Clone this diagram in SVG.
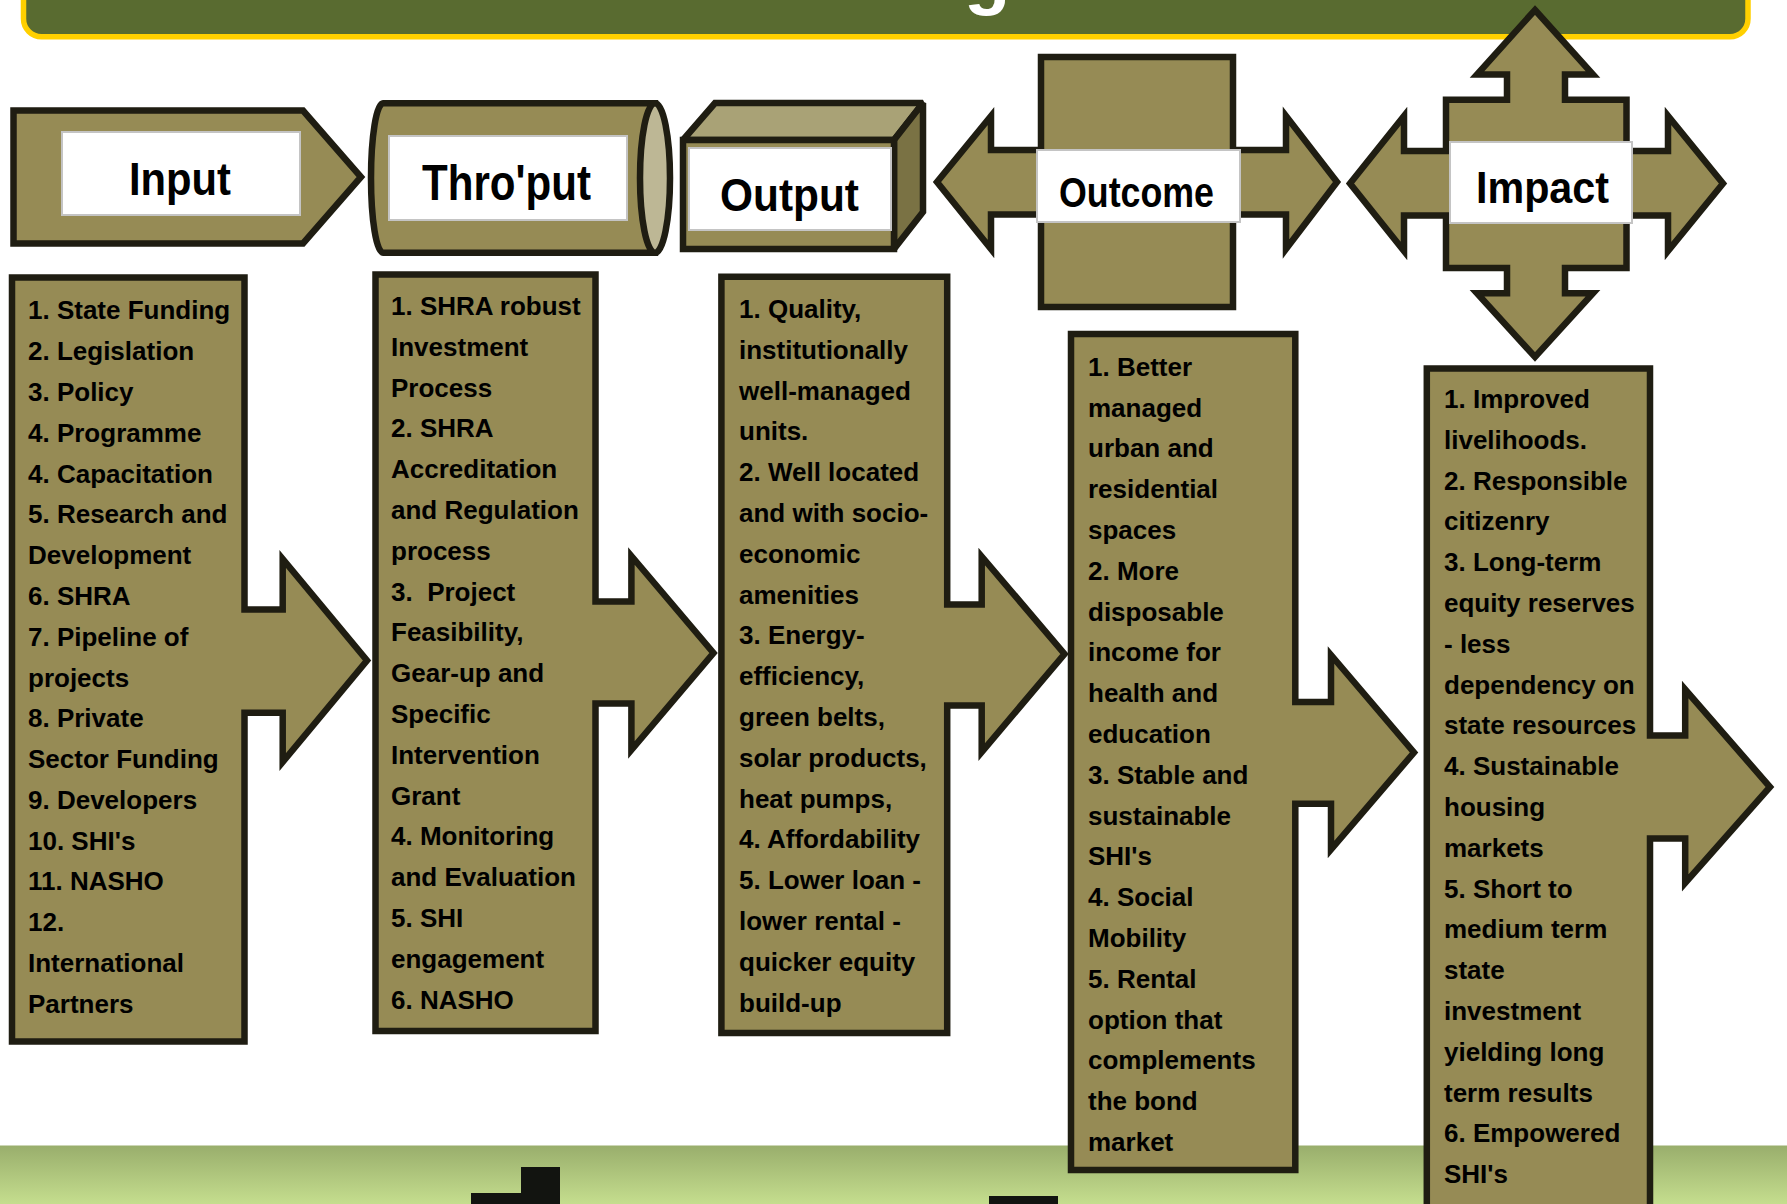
<svg xmlns="http://www.w3.org/2000/svg" width="1787" height="1204" viewBox="0 0 1787 1204">
  <defs>
    <linearGradient id="band" x1="0" y1="0" x2="0" y2="1">
      <stop offset="0" stop-color="#99ae6c"/>
      <stop offset="1" stop-color="#c6df8f"/>
    </linearGradient>
    <style>
      .olive { fill:#968b55; stroke:#1f1d12; stroke-width:6.5; stroke-linejoin:miter; stroke-miterlimit:10; }
      .face { stroke:#1f1d12; stroke-width:6.5; stroke-linejoin:miter; stroke-miterlimit:1.5; }
      .lbl { fill:#ffffff; stroke:#c4c4c4; stroke-width:2; }
      .hdr { font-family:"Liberation Sans", Arial, sans-serif; font-weight:bold; fill:#000; text-anchor:middle; }
      .body { font-family:"Liberation Sans", Arial, sans-serif; font-weight:bold; font-size:26px; fill:#000; white-space:pre; }
    </style>
  </defs>
  <rect x="0" y="0" width="1787" height="1204" fill="#ffffff"/>

  <!-- title bar (cut off at top) -->
  <g id="title-bar">
    <rect x="23.5" y="-40" width="1724.5" height="76.8" rx="18" ry="18" fill="#596b30" stroke="#ffd000" stroke-width="5.5"/>
    <text x="964" y="0" font-family="Liberation Sans, Arial, sans-serif" font-weight="bold" font-size="76" fill="#ffffff">g</text>
  </g>

  <!-- bottom band -->
  <g id="bottom-band">
    <rect x="0" y="1145.5" width="1787" height="60" fill="url(#band)"/>
    <path d="M471,1193 H521 V1167 H560 V1204 H471 Z" fill="#121410"/>
    <rect x="989" y="1196" width="69" height="8" fill="#121410"/>
  </g>

  <g id="connectors"></g>

  <!-- Input header -->
  <g id="input-header">
    <path class="olive" d="M13.5,110.5 H303 L361,177 L303,243.5 H13.5 Z"/>
    <rect class="lbl" x="62" y="132" width="238" height="83"/>
    <text class="hdr" x="180" y="195" font-size="46" textLength="102" lengthAdjust="spacingAndGlyphs">Input</text>
  </g>

  <!-- Thro'put header (cylinder) -->
  <g id="throughput-header">
    <path class="olive" d="M383,103.3 H655 V252.7 H383 A12,74.7 0 0 1 383,103.3 Z"/>
    <ellipse cx="655" cy="178" rx="15" ry="74.7" fill="#bdb795" stroke="#1f1d12" stroke-width="6.5"/>
    <rect class="lbl" x="389" y="136" width="238" height="84"/>
    <text class="hdr" x="506.5" y="200" font-size="50" textLength="169" lengthAdjust="spacingAndGlyphs">Thro'put</text>
  </g>

  <!-- Output header (cube) -->
  <g id="output-header">
    <path class="face" d="M683,140 L715,103 H923 L894,140 Z" fill="#a9a276"/>
    <path class="face" d="M894,140 L923,103 V212 L894,249 Z" fill="#7a7244"/>
    <rect class="olive" x="683" y="140" width="211" height="109"/>
    <rect class="lbl" x="689" y="148" width="202" height="82"/>
    <text class="hdr" x="789.5" y="211" font-size="46" textLength="139" lengthAdjust="spacingAndGlyphs">Output</text>
  </g>

  <!-- Outcome header (cross with double arrow) -->
  <g id="outcome-header">
    <path class="olive" d="M1041,57 H1233 V150 H1286 V116 L1337,182 L1286,249 V214.5 H1233 V307 H1041 V214.5 H991 V249 L937,182 L991,116 V150 H1041 Z"/>
    <rect class="lbl" x="1037" y="150" width="203" height="72"/>
    <text class="hdr" x="1136.5" y="207" font-size="42" textLength="155" lengthAdjust="spacingAndGlyphs">Outcome</text>
  </g>

  <!-- Impact header (4-way arrow) -->
  <g id="impact-header">
    <path class="olive" d="M1535,10 L1593,74.5 H1565 V99.7 H1626.5 V151 H1668 V116 L1723,183.5 L1668,251 V215.5 H1626.5 V268 H1565 V293.3 H1593 L1535,357 L1477,293.3 H1507 V268 H1446 V215.5 H1404 V251 L1350,183.5 L1404,116 V151 H1446 V99.7 H1507 V74.5 H1477 Z"/>
    <rect class="lbl" x="1450" y="142" width="182" height="81"/>
    <text class="hdr" x="1542.5" y="203" font-size="45" textLength="133" lengthAdjust="spacingAndGlyphs">Impact</text>
  </g>

  <!-- Input body -->
  <g id="input-body">
    <path class="olive" d="M12,277.5 H244.5 V609.5 H282.7 V559 L367,660.5 L282.7,762 V712.7 H244.5 V1041.5 H12 Z"/>
    <text class="body">
      <tspan x="28" y="319.3">1. State Funding</tspan>
      <tspan x="28" dy="40.8">2. Legislation</tspan>
      <tspan x="28" dy="40.8">3. Policy</tspan>
      <tspan x="28" dy="40.8">4. Programme</tspan>
      <tspan x="28" dy="40.8">4. Capacitation</tspan>
      <tspan x="28" dy="40.8">5. Research and</tspan>
      <tspan x="28" dy="40.8">Development</tspan>
      <tspan x="28" dy="40.8">6. SHRA</tspan>
      <tspan x="28" dy="40.8">7. Pipeline of</tspan>
      <tspan x="28" dy="40.8">projects</tspan>
      <tspan x="28" dy="40.8">8. Private</tspan>
      <tspan x="28" dy="40.8">Sector Funding</tspan>
      <tspan x="28" dy="40.8">9. Developers</tspan>
      <tspan x="28" dy="40.8">10. SHI's</tspan>
      <tspan x="28" dy="40.8">11. NASHO</tspan>
      <tspan x="28" dy="40.8">12.</tspan>
      <tspan x="28" dy="40.8">International</tspan>
      <tspan x="28" dy="40.8">Partners</tspan>
    </text>
  </g>

  <!-- Thro'put body -->
  <g id="throughput-body">
    <path class="olive" d="M375.5,274.5 H595.5 V601.4 H631.4 V556 L713.5,653 L631.4,750 V703.4 H595.5 V1031 H375.5 Z"/>
    <text class="body">
      <tspan x="391" y="315">1. SHRA robust</tspan>
      <tspan x="391" dy="40.8">Investment</tspan>
      <tspan x="391" dy="40.8">Process</tspan>
      <tspan x="391" dy="40.8">2. SHRA</tspan>
      <tspan x="391" dy="40.8">Accreditation</tspan>
      <tspan x="391" dy="40.8">and Regulation</tspan>
      <tspan x="391" dy="40.8">process</tspan>
      <tspan x="391" dy="40.8">3.  Project</tspan>
      <tspan x="391" dy="40.8">Feasibility,</tspan>
      <tspan x="391" dy="40.8">Gear-up and</tspan>
      <tspan x="391" dy="40.8">Specific</tspan>
      <tspan x="391" dy="40.8">Intervention</tspan>
      <tspan x="391" dy="40.8">Grant</tspan>
      <tspan x="391" dy="40.8">4. Monitoring</tspan>
      <tspan x="391" dy="40.8">and Evaluation</tspan>
      <tspan x="391" dy="40.8">5. SHI</tspan>
      <tspan x="391" dy="40.8">engagement</tspan>
      <tspan x="391" dy="40.8">6. NASHO</tspan>
    </text>
  </g>

  <!-- Output body -->
  <g id="output-body">
    <path class="olive" d="M721.4,276.8 H947.2 V604.4 H981.7 V556.5 L1064.5,654 L981.7,752 V705.4 H947.2 V1033 H721.4 Z"/>
    <text class="body">
      <tspan x="739" y="318">1. Quality,</tspan>
      <tspan x="739" dy="40.8">institutionally</tspan>
      <tspan x="739" dy="40.8">well-managed</tspan>
      <tspan x="739" dy="40.8">units.</tspan>
      <tspan x="739" dy="40.8">2. Well located</tspan>
      <tspan x="739" dy="40.8">and with socio-</tspan>
      <tspan x="739" dy="40.8">economic</tspan>
      <tspan x="739" dy="40.8">amenities</tspan>
      <tspan x="739" dy="40.8">3. Energy-</tspan>
      <tspan x="739" dy="40.8">efficiency,</tspan>
      <tspan x="739" dy="40.8">green belts,</tspan>
      <tspan x="739" dy="40.8">solar products,</tspan>
      <tspan x="739" dy="40.8">heat pumps,</tspan>
      <tspan x="739" dy="40.8">4. Affordability</tspan>
      <tspan x="739" dy="40.8">5. Lower loan -</tspan>
      <tspan x="739" dy="40.8">lower rental -</tspan>
      <tspan x="739" dy="40.8">quicker equity</tspan>
      <tspan x="739" dy="40.8">build-up</tspan>
    </text>
  </g>

  <!-- Outcome body -->
  <g id="outcome-body">
    <path class="olive" d="M1071,334 H1295.3 V702 H1331 V655 L1414,752.5 L1331,849.5 V803.8 H1295.3 V1170 H1071 Z"/>
    <text class="body">
      <tspan x="1088" y="375.7">1. Better</tspan>
      <tspan x="1088" dy="40.8">managed</tspan>
      <tspan x="1088" dy="40.8">urban and</tspan>
      <tspan x="1088" dy="40.8">residential</tspan>
      <tspan x="1088" dy="40.8">spaces</tspan>
      <tspan x="1088" dy="40.8">2. More</tspan>
      <tspan x="1088" dy="40.8">disposable</tspan>
      <tspan x="1088" dy="40.8">income for</tspan>
      <tspan x="1088" dy="40.8">health and</tspan>
      <tspan x="1088" dy="40.8">education</tspan>
      <tspan x="1088" dy="40.8">3. Stable and</tspan>
      <tspan x="1088" dy="40.8">sustainable</tspan>
      <tspan x="1088" dy="40.8">SHI's</tspan>
      <tspan x="1088" dy="40.8">4. Social</tspan>
      <tspan x="1088" dy="40.8">Mobility</tspan>
      <tspan x="1088" dy="40.8">5. Rental</tspan>
      <tspan x="1088" dy="40.8">option that</tspan>
      <tspan x="1088" dy="40.8">complements</tspan>
      <tspan x="1088" dy="40.8">the bond</tspan>
      <tspan x="1088" dy="40.8">market</tspan>
    </text>
  </g>

  <!-- Impact body -->
  <g id="impact-body">
    <path class="olive" d="M1426.8,368.5 H1650 V735.5 H1685.2 V689.5 L1770,787 L1685.2,883 V838.6 H1650 V1230 H1426.8 Z"/>
    <text class="body">
      <tspan x="1444" y="408">1. Improved</tspan>
      <tspan x="1444" dy="40.8">livelihoods.</tspan>
      <tspan x="1444" dy="40.8">2. Responsible</tspan>
      <tspan x="1444" dy="40.8">citizenry</tspan>
      <tspan x="1444" dy="40.8">3. Long-term</tspan>
      <tspan x="1444" dy="40.8">equity reserves</tspan>
      <tspan x="1444" dy="40.8">- less</tspan>
      <tspan x="1444" dy="40.8">dependency on</tspan>
      <tspan x="1444" dy="40.8">state resources</tspan>
      <tspan x="1444" dy="40.8">4. Sustainable</tspan>
      <tspan x="1444" dy="40.8">housing</tspan>
      <tspan x="1444" dy="40.8">markets</tspan>
      <tspan x="1444" dy="40.8">5. Short to</tspan>
      <tspan x="1444" dy="40.8">medium term</tspan>
      <tspan x="1444" dy="40.8">state</tspan>
      <tspan x="1444" dy="40.8">investment</tspan>
      <tspan x="1444" dy="40.8">yielding long</tspan>
      <tspan x="1444" dy="40.8">term results</tspan>
      <tspan x="1444" dy="40.8">6. Empowered</tspan>
      <tspan x="1444" dy="40.8">SHI's</tspan>
    </text>
  </g>
</svg>
